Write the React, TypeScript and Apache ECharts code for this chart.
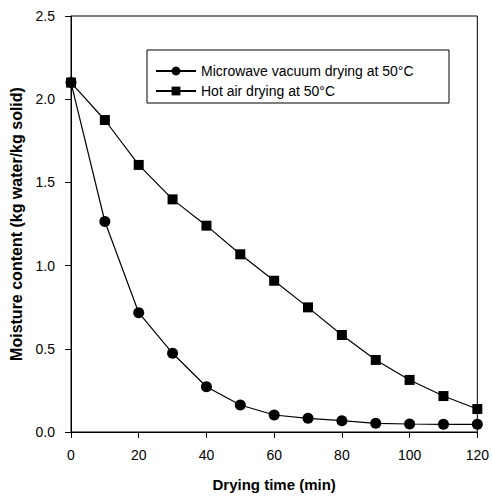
import React, { useEffect, useRef } from "react";
import * as echarts from "echarts";

const dryingTime = [0, 10, 20, 30, 40, 50, 60, 70, 80, 90, 100, 110, 120];
const microwaveVacuum = [2.1, 1.265, 0.717, 0.473, 0.272, 0.162, 0.102, 0.082, 0.068, 0.052, 0.048, 0.046, 0.046];
const hotAir = [2.1, 1.875, 1.605, 1.398, 1.24, 1.068, 0.909, 0.749, 0.583, 0.433, 0.313, 0.216, 0.138];
const seriesNames = ["Microwave vacuum drying at 50°C", "Hot air drying at 50°C"];

const FONT = "'Liberation Sans', Arial, Helvetica, sans-serif";

export default function App() {
  const ref = useRef<HTMLDivElement>(null);
  useEffect(() => {
    if (!ref.current) return;
    const chart = echarts.init(ref.current, null, { renderer: "svg" });
    chart.setOption({
      animation: false,
      backgroundColor: "#fff",
      textStyle: { fontFamily: FONT, color: "#000" },
      grid: {
        left: 70,
        top: 16,
        right: 13,
        bottom: 66,
        show: true,
        borderColor: "#000",
        borderWidth: 1,
        backgroundColor: "transparent",
      },
      graphic: [
        {
          type: "rect",
          shape: { x: 147, y: 50, width: 302, height: 53 },
          style: { fill: "#fff", stroke: "#000", lineWidth: 1 },
          z: 10,
        },
      ],
      legend: {
        left: 150,
        top: 59,
        orient: "vertical",
        itemGap: 6,
        itemWidth: 40,
        itemHeight: 11,
        z: 20,
        textStyle: { fontFamily: FONT, fontSize: 14, color: "#000" },
        data: seriesNames,
      },
      xAxis: {
        type: "value",
        min: 0,
        max: 120,
        interval: 20,
        name: "Drying time (min)",
        nameLocation: "middle",
        nameGap: 45,
        nameTextStyle: { fontFamily: FONT, fontSize: 15, fontWeight: "bold", color: "#000" },
        axisLine: { show: true, lineStyle: { color: "#000", width: 1 } },
        axisTick: { show: true, inside: false, length: 6, lineStyle: { color: "#000" } },
        axisLabel: { margin: 16, fontFamily: FONT, fontSize: 14, color: "#000" },
        splitLine: { show: false },
      },
      yAxis: {
        type: "value",
        min: 0,
        max: 2.5,
        interval: 0.5,
        name: "Moisture content (kg water/kg solid)",
        nameLocation: "middle",
        nameGap: 47,
        nameTextStyle: { fontFamily: FONT, fontSize: 16, fontWeight: "bold", color: "#000" },
        axisLine: { show: true, lineStyle: { color: "#000", width: 1 } },
        axisTick: { show: true, inside: false, length: 6, lineStyle: { color: "#000" } },
        axisLabel: {
          margin: 16,
          fontFamily: FONT,
          fontSize: 14,
          color: "#000",
          formatter: (v: number) => v.toFixed(1),
        },
        splitLine: { show: false },
      },
      series: [
        {
          name: seriesNames[0],
          type: "line",
          data: dryingTime.map((t, i) => [t, microwaveVacuum[i]]),
          symbol: "circle",
          symbolSize: 11,
          lineStyle: { color: "#000", width: 1.2 },
          itemStyle: { color: "#000" },
          z: 5,
        },
        {
          name: seriesNames[1],
          type: "line",
          data: dryingTime.map((t, i) => [t, hotAir[i]]),
          symbol: "rect",
          symbolSize: 10,
          lineStyle: { color: "#000", width: 1.2 },
          itemStyle: { color: "#000" },
          z: 4,
        },
      ],
    });
    return () => chart.dispose();
  }, []);
  return <div ref={ref} style={{ width: 492, height: 498, position: "absolute", left: 0, top: 0 }} />;
}
